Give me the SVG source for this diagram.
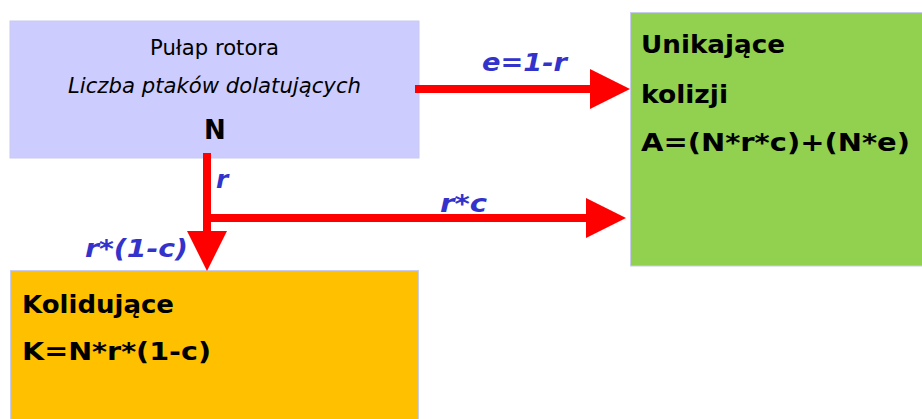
<svg xmlns="http://www.w3.org/2000/svg" width="922" height="419" viewBox="0 0 922 419">
<defs>
<style>
.box{stroke:#C8CCEE;stroke-width:1}
.t{font-family:"DejaVu Sans",Verdana,sans-serif;fill:#000}
.b{font-weight:bold}
.lbl{font-family:"DejaVu Sans",Verdana,sans-serif;font-weight:bold;font-style:italic;fill:#3333CC;font-size:25px}
.arr{stroke:#FF0000;stroke-width:8;fill:none}
</style>
<marker id="head" viewBox="0 0 40 40" refX="0" refY="20" markerWidth="40" markerHeight="40" markerUnits="userSpaceOnUse" orient="auto">
<path d="M0,0 L40,20 L0,40 Z" fill="#FF0000"/>
</marker>
</defs>
<rect width="922" height="419" fill="#FFFFFF"/>
<g id="pool">
<rect class="box" x="10" y="21" width="409" height="137" fill="#CCCCFF"/>
<text class="t" x="214.5" y="55" font-size="21" text-anchor="middle" textLength="129" lengthAdjust="spacingAndGlyphs">Pułap rotora</text>
<text class="t" x="214.5" y="93" font-size="21" font-style="italic" text-anchor="middle" textLength="293" lengthAdjust="spacingAndGlyphs">Liczba ptaków dolatujących</text>
<text class="t b" x="215" y="139" font-size="26" text-anchor="middle">N</text>
</g>
<g id="avoiding">
<rect class="box" x="630.5" y="12.5" width="300" height="253.5" fill="#92D050"/>
<text class="t b" x="641" y="53" font-size="25" textLength="144" lengthAdjust="spacingAndGlyphs">Unikające</text>
<text class="t b" x="641" y="103" font-size="25" textLength="87" lengthAdjust="spacingAndGlyphs">kolizji</text>
<text class="t b" x="641" y="151" font-size="25" textLength="269" lengthAdjust="spacingAndGlyphs">A=(N*r*c)+(N*e)</text>
</g>
<g id="colliding">
<rect class="box" x="10.5" y="270.5" width="408" height="160" fill="#FFC000"/>
<text class="t b" x="22" y="313" font-size="25" textLength="152" lengthAdjust="spacingAndGlyphs">Kolidujące</text>
<text class="t b" x="22" y="360" font-size="25" textLength="189" lengthAdjust="spacingAndGlyphs">K=N*r*(1-c)</text>
</g>
<g id="connectors">
<line class="arr" x1="415" y1="89" x2="590" y2="89" marker-end="url(#head)"/>
<line class="arr" x1="207" y1="153" x2="207" y2="231" marker-end="url(#head)"/>
<line class="arr" x1="203" y1="218" x2="586" y2="218" marker-end="url(#head)"/>
<text class="lbl" x="482" y="71" textLength="85" lengthAdjust="spacingAndGlyphs">e=1-r</text>
<text class="lbl" x="216" y="188">r</text>
<text class="lbl" x="440" y="212" textLength="47" lengthAdjust="spacingAndGlyphs">r*c</text>
<text class="lbl" x="85" y="257" textLength="103" lengthAdjust="spacingAndGlyphs">r*(1-c)</text>
</g>
</svg>
